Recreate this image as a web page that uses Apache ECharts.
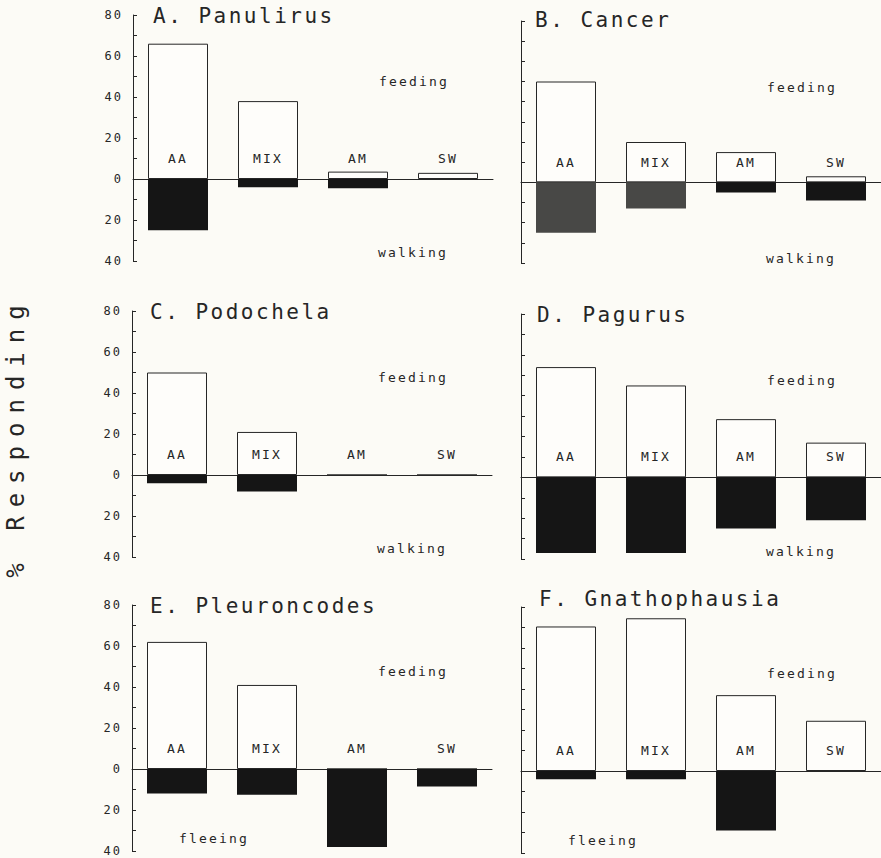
<!DOCTYPE html>
<html>
<head>
<meta charset="utf-8">
<script src="https://cdn.jsdelivr.net/npm/echarts@6/dist/echarts.min.js"></script>
<style>
  html, body { margin: 0; padding: 0; background: #fcfbf6; }
  #chart { width: 881px; height: 858px; }
  /* plotter-style lettering: wide character pitch, keyed on text size */
  #chart text[style*="12px"] { letter-spacing: 2px; }
  #chart text[style*="13px"] { letter-spacing: 2.2px; }
  #chart text[style*="21px"] { letter-spacing: 2.5px; }
  #chart text[style*="24px"] { letter-spacing: 9px; }
</style>
</head>
<body>
<div id="chart"></div>
<script>
// Stimulus categories
const categories = ['AA', 'MIX', 'AM', 'SW'];

// % responding: feeding (upward) and locomotor response (downward, negative)
const panulirusFeeding = [66, 38, 3.6, 3];
const panulirusWalking = [-25, -4, -4.5, 0];
const cancerFeeding = [50, 20, 15, 3];
const cancerWalking = [-25, -13, -5, -9];
const podochelaFeeding = [50, 21, 0, 0];
const podochelaWalking = [-4, -8, 0, 0];
const pagurusFeeding = [54, 45, 28.5, 17];
const pagurusWalking = [-37, -37, -25, -21];
const pleuroncodesFeeding = [62, 41, 0, 0];
const pleuroncodesFleeing = [-12, -12.5, -38, -8.5];
const gnathophausiaFeeding = [70.5, 74.5, 37, 24.5];
const gnathophausiaFleeing = [-4, -4, -29, 0];

// Panel titles and response names
const titles = ['A. Panulirus', 'B. Cancer', 'C. Podochela', 'D. Pagurus', 'E. Pleuroncodes', 'F. Gnathophausia'];
const responseNames = ['walking', 'walking', 'walking', 'walking', 'fleeing', 'fleeing'];

// Y axis range and tick spacing (labels show magnitudes)
const yMin = -40, yMax = 80, yStep = 20;
// Height (in axis units) at which the stimulus names are written
const stimulusLabelLevel = 10;

const feedingSets = [panulirusFeeding, cancerFeeding, podochelaFeeding, pagurusFeeding, pleuroncodesFeeding, gnathophausiaFeeding];
const responseSets = [panulirusWalking, cancerWalking, podochelaWalking, pagurusWalking, pleuroncodesFleeing, gnathophausiaFleeing];

// Panel placement (px): grid box, title offset
const layout = [
  { left: 133, top: 15,  height: 246, titleDx: 20, titleDy: 1,  labels: true },
  { left: 521, top: 21,  height: 242, titleDx: 14, titleDy: -1, labels: false },
  { left: 132, top: 311, height: 246, titleDx: 18, titleDy: 1,  labels: true },
  { left: 521, top: 314, height: 245, titleDx: 16, titleDy: 1,  labels: false },
  { left: 132, top: 605, height: 246, titleDx: 18, titleDy: 1,  labels: true },
  { left: 521, top: 607, height: 246, titleDx: 18, titleDy: -8, labels: false }
];
const gridWidth = 360;

// Cancer: the first two downward bars are a stippled grey rather than solid
const greyBars = { 1: [0, 1] };

const ink = '#262626';
const font = 'DejaVu Sans Mono';

const grids = [], xAxes = [], yAxes = [], series = [], graphics = [];

layout.forEach((p, i) => {
  grids.push({ left: p.left, top: p.top, width: gridWidth, height: p.height, containLabel: false });

  xAxes.push({
    type: 'category', gridIndex: i, data: categories,
    axisLine: { onZero: true, lineStyle: { color: ink, width: 1 } },
    axisTick: { show: false },
    axisLabel: { show: false },
    splitLine: { show: false }
  });

  yAxes.push({
    type: 'value', gridIndex: i, min: yMin, max: yMax, interval: yStep,
    axisLine: { show: true, lineStyle: { color: ink, width: 1 } },
    axisTick: { show: true, inside: true, length: 4, lineStyle: { color: ink } },
    minorTick: { show: true, splitNumber: 2, length: 4, lineStyle: { color: ink } },
    axisLabel: {
      show: p.labels, fontSize: 12, fontFamily: font, color: ink, margin: 10,
      showMinLabel: true, showMaxLabel: true, hideOverlap: false,
      formatter: v => String(Math.abs(v))
    },
    splitLine: { show: false }
  });

  const grey = greyBars[i] || [];
  series.push({
    type: 'bar', name: 'feeding', xAxisIndex: i, yAxisIndex: i,
    data: feedingSets[i], barWidth: 60, barGap: '-100%',
    itemStyle: { color: '#fefdfa', borderColor: ink, borderWidth: 1 },
    emphasis: { disabled: true }, silent: true
  });
  series.push({
    type: 'bar', name: responseNames[i], xAxisIndex: i, yAxisIndex: i,
    data: responseSets[i].map((v, k) => grey.includes(k) ? { value: v, itemStyle: { color: '#484846' } } : v),
    barWidth: 60, barGap: '-100%',
    itemStyle: { color: '#151515', borderWidth: 0 },
    emphasis: { disabled: true }, silent: true
  });
  // Stimulus names written just above the zero line in each column
  series.push({
    type: 'scatter', name: 'stimulus', xAxisIndex: i, yAxisIndex: i,
    data: categories.map(c => ({ name: c, value: [c, stimulusLabelLevel] })),
    symbolSize: 1, itemStyle: { color: 'rgba(0,0,0,0)', opacity: 1 },
    label: {
      show: true, position: 'inside', formatter: '{b}', fontSize: 13, fontFamily: font,
      color: ink, opacity: 1, textBorderWidth: 0
    },
    emphasis: { disabled: true }, silent: true, z: 5
  });

  // Panel title
  graphics.push({
    type: 'text', x: p.left + p.titleDx, y: p.top + p.titleDy,
    style: { text: titles[i], fontSize: 21, fontFamily: font, fill: ink, align: 'left', verticalAlign: 'middle' }
  });
  // "feeding" annotation
  graphics.push({
    type: 'text', x: p.left + 281, y: p.top + 66,
    style: { text: 'feeding', fontSize: 13, fontFamily: font, fill: ink, align: 'center', verticalAlign: 'middle' }
  });
  // response annotation
  const fleeing = responseNames[i] === 'fleeing';
  graphics.push({
    type: 'text',
    x: fleeing ? p.left + 82 : p.left + 280,
    y: fleeing ? p.top + 233 : p.top + 237,
    style: { text: responseNames[i], fontSize: 13, fontFamily: font, fill: ink, align: 'center', verticalAlign: 'middle' }
  });
});

// Shared y-axis title
graphics.push({
  type: 'text', x: 15.5, y: 437, rotation: Math.PI / 2,
  style: { text: '% Responding', fontSize: 24, fontFamily: font, fill: ink, align: 'center', verticalAlign: 'middle' }
});

const chart = echarts.init(document.getElementById('chart'), null, { renderer: 'svg' });
chart.setOption({
  backgroundColor: '#fcfbf6',
  animation: false,
  grid: grids,
  xAxis: xAxes,
  yAxis: yAxes,
  series: series,
  graphic: graphics
});
</script>
</body>
</html>
